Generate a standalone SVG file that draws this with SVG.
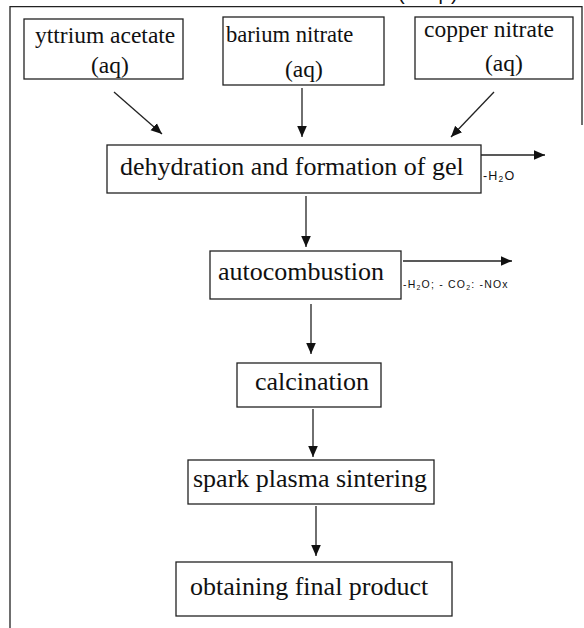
<svg xmlns="http://www.w3.org/2000/svg" width="584" height="628" viewBox="0 0 584 628">
<defs>
<style>
.box{fill:#fff;stroke:#222;stroke-width:1.3}
.t{font-family:"Liberation Serif","Times New Roman",serif;fill:#111}
.big{font-size:26px}
.small{font-size:23.5px}
.lbl{font-family:"Liberation Sans",Arial,sans-serif;fill:#111;letter-spacing:1.2px}
.ln{stroke:#222;stroke-width:1.3;fill:none}
.con{stroke:#222;stroke-width:1.3;fill:none;marker-end:url(#ah)}
</style>
<marker id="ah" markerUnits="userSpaceOnUse" markerWidth="12" markerHeight="12" viewBox="0 0 12 12" refX="11" refY="6" orient="auto">
<path d="M0,1.2 L11,6 L0,10.8 Z" fill="#111"/>
</marker>
</defs>
<rect width="584" height="628" fill="#fff"/>
<g id="frame">
<path class="ln" d="M10,628 L10,6.7 L582,6.7 L582,125"/>
<text class="lbl" x="398" y="-0.5" font-size="20" style="letter-spacing:8px">(aq)</text>
</g>
<g id="connectors">
<line class="con" x1="114" y1="92" x2="162" y2="134"/>
<line class="con" x1="302" y1="88" x2="302" y2="137"/>
<line class="con" x1="494" y1="92" x2="451" y2="137"/>
<line class="con" x1="306" y1="196" x2="306" y2="247"/>
<line class="con" x1="481" y1="155" x2="545" y2="155"/>
<line class="con" x1="311" y1="304" x2="311" y2="354"/>
<line class="con" x1="403" y1="261" x2="512" y2="261"/>
<line class="con" x1="313" y1="409" x2="313" y2="457"/>
<line class="con" x1="316" y1="506" x2="316" y2="556"/>
</g>
<g id="yttrium">
<rect class="box" x="24" y="19" width="159" height="60"/>
<text class="t small" x="35" y="43">yttrium acetate</text>
<text class="t small" x="91" y="73">(aq)</text>
</g>
<g id="barium">
<rect class="box" x="223" y="17" width="161" height="68"/>
<text class="t small" x="226" y="42" style="font-size:22.6px">barium nitrate</text>
<text class="t small" x="285" y="77">(aq)</text>
</g>
<g id="copper">
<rect class="box" x="415" y="17" width="158" height="62"/>
<text class="t small" x="424" y="37">copper nitrate</text>
<text class="t small" x="485" y="71">(aq)</text>
</g>
<g id="dehydration">
<rect class="box" x="107" y="145" width="374" height="48"/>
<text class="t big" x="120" y="175">dehydration and formation of gel</text>
</g>
<g id="h2o-label">
<text class="lbl" x="483" y="180" font-size="12.5">-H<tspan font-size="8.5" dy="2">2</tspan><tspan dy="-2">O</tspan></text>
</g>
<g id="autocombustion">
<rect class="box" x="210" y="251" width="191" height="48"/>
<text class="t big" x="218" y="280">autocombustion</text>
</g>
<g id="gases-label">
<text class="lbl" x="403" y="288" font-size="10.5">-H<tspan font-size="7" dy="2">2</tspan><tspan dy="-2">O; - CO</tspan><tspan font-size="7" dy="2">2</tspan><tspan dy="-2">: -NOx</tspan></text>
</g>
<g id="calcination">
<rect class="box" x="237" y="363" width="144" height="44"/>
<text class="t big" x="255" y="390">calcination</text>
</g>
<g id="sps">
<rect class="box" x="188" y="460" width="246" height="44"/>
<text class="t big" x="193" y="487">spark plasma sintering</text>
</g>
<g id="final">
<rect class="box" x="176" y="562" width="276" height="54"/>
<text class="t big" x="190" y="595">obtaining final product</text>
</g>
</svg>
